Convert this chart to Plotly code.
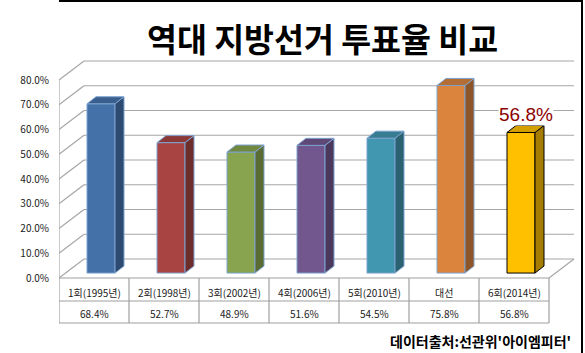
import plotly.graph_objects as go

# ---------------- data ----------------
categories = ["1회(1995년)", "2회(1998년)", "3회(2002년)", "4회(2006년)",
              "5회(2010년)", "대선", "6회(2014년)"]
turnout = [68.4, 52.7, 48.9, 51.6, 54.5, 75.8, 56.8]
series_name = "계열1"
y_ticks = [0, 10, 20, 30, 40, 50, 60, 70, 80]
y_tick_labels = [f"{v:.1f}%" for v in y_ticks]
title_text = "역대 지방선거 투표율 비교"
source_text = "데이터출처:선관위'아이엠피터'"
highlight_index = 6

front_colors = ["#4472A8", "#A84442", "#89A44E", "#72578F", "#4197AF", "#DA843D", "#FFC000"]
side_colors = ["#2D4A70", "#6E2C2B", "#5A6B33", "#4A395D", "#2A6272", "#8E5628", "#A67D00"]
top_colors = ["#3A5F8E", "#8B3836", "#718840", "#5E4876", "#367D91", "#B46D32", "#D4A000"]
edge_colors = ["#7DA2CF"] * 6 + ["#000000"]

# ---------------- geometry (axis units) ----------------
W, H = 585, 353
X0_PX, PX_X = 94, 70.0      # category 0 centre, pixels per category
Y0_PX, PX_Y = 278, 2.475    # 0% position, pixels per percent
ML = 59

def px2x(px):
    return (px - X0_PX) / PX_X

def py2y(py):
    return (Y0_PX - py) / PX_Y

DX, DY = 25 / PX_X, 19 / PX_Y          # depth of the 3D box
X_LEFT, X_RIGHT = -0.5, len(categories) - 0.5
BAR_SHIFT, BAR_W, BAR_BASE = 0.1, 0.4, 2.0
BDX, BDY = 9 / PX_X, 7 / PX_Y          # depth of each bar

GRID = "#A6A6A6"
TABLE = "#A0A0A0"
FONT = "Noto Sans CJK KR"

fig = go.Figure()

# bars
for i, v in enumerate(turnout):
    c = i + BAR_SHIFT
    l, r = c - BAR_W / 2, c + BAR_W / 2
    b, t = BAR_BASE, BAR_BASE + v
    faces = [
        ([l, r, r, l, l], [b, b, t, t, b], front_colors[i]),
        ([r, r + BDX, r + BDX, r, r], [b, b + BDY, t + BDY, t, b], side_colors[i]),
        ([l, r, r + BDX, l + BDX, l], [t, t, t + BDY, t + BDY, t], top_colors[i]),
    ]
    for xs, ys, col in faces:
        fig.add_trace(go.Scatter(x=xs, y=ys, mode="lines", fill="toself",
                                 fillcolor=col, line=dict(color=edge_colors[i], width=1),
                                 hoverinfo="skip", showlegend=False))

shapes = []
# back wall gridlines + left wall diagonals
for v in y_ticks:
    shapes.append(dict(type="line", xref="x", yref="y", layer="below",
                       x0=X_LEFT + DX, x1=X_RIGHT + DX, y0=v + DY, y1=v + DY,
                       line=dict(color=GRID, width=1.2)))
    shapes.append(dict(type="line", xref="x", yref="y", layer="below",
                       x0=X_LEFT, x1=X_LEFT + DX, y0=v, y1=v + DY,
                       line=dict(color=GRID, width=1.2)))
# front vertical axis line
shapes.append(dict(type="line", xref="x", yref="y", layer="below",
                   x0=X_LEFT, x1=X_LEFT, y0=0, y1=max(y_ticks),
                   line=dict(color=GRID, width=1.2)))
# floor right edge
shapes.append(dict(type="line", xref="x", yref="y", layer="below",
                   x0=X_RIGHT, x1=X_RIGHT + DX, y0=0, y1=DY,
                   line=dict(color=GRID, width=1.2)))

# data table
row1 = py2y(301)
row2 = py2y(323)
x_tab_left = px2x(16)
shapes.append(dict(type="line", xref="x", yref="y", x0=X_LEFT, x1=X_RIGHT, y0=0, y1=0,
                   line=dict(color=TABLE, width=1.2)))
for yy in (row1, row2):
    shapes.append(dict(type="line", xref="x", yref="y", x0=x_tab_left, x1=X_RIGHT,
                       y0=yy, y1=yy, line=dict(color=TABLE, width=1.2)))
for k in range(len(categories) + 1):
    shapes.append(dict(type="line", xref="x", yref="y", x0=X_LEFT + k, x1=X_LEFT + k,
                       y0=0, y1=row2, line=dict(color=TABLE, width=1.2)))
shapes.append(dict(type="line", xref="x", yref="y", x0=x_tab_left, x1=x_tab_left,
                   y0=row1, y1=row2, line=dict(color=TABLE, width=1.2)))

# outer frame
shapes.append(dict(type="rect", xref="x", yref="y",
                   x0=px2x(1), x1=px2x(582), y0=py2y(1), y1=py2y(360),
                   line=dict(color="black", width=2)))

annotations = []
for i, (cat, v) in enumerate(zip(categories, turnout)):
    annotations.append(dict(x=i, y=py2y(292), xref="x", yref="y", text=cat,
                            showarrow=False, font=dict(family=FONT, size=10, color="#222")))
    annotations.append(dict(x=i, y=py2y(313), xref="x", yref="y", text=f"{v:.1f}%",
                            showarrow=False, font=dict(family=FONT, size=10, color="#222")))
annotations.append(dict(x=px2x(19), y=py2y(312), xref="x", yref="y", xanchor="left",
                        text=f"<span style='color:{front_colors[0]}'>■</span>{series_name}",
                        showarrow=False, font=dict(family=FONT, size=10.5, color="#222")))

# highlighted value label
hv = turnout[highlight_index]
annotations.append(dict(x=highlight_index + BAR_SHIFT + BDX / 2,
                        y=BAR_BASE + hv + BDY, xref="x", yref="y",
                        yanchor="bottom", yshift=-1, text=f"{hv:.1f}%", showarrow=False,
                        bgcolor="white", borderpad=0,
                        font=dict(family="Liberation Sans", size=19, color="#8C0000")))

# title and source
annotations.append(dict(x=px2x(322), y=py2y(37), xref="x", yref="y",
                        text=f"<b>{title_text}</b>", showarrow=False,
                        font=dict(family=FONT, size=32.5, color="black")))
annotations.append(dict(x=px2x(573), y=py2y(341), xref="x", yref="y", xanchor="right",
                        text=f"<b>{source_text}</b>", showarrow=False,
                        font=dict(family=FONT, size=14, color="black")))

fig.update_layout(
    width=W, height=H, autosize=False,
    margin=dict(l=ML, r=0, t=0, b=0, pad=0),
    paper_bgcolor="white", plot_bgcolor="white",
    showlegend=False,
    xaxis=dict(range=[px2x(ML), px2x(W)], visible=False, fixedrange=True),
    yaxis=dict(range=[py2y(H), py2y(0)], tickvals=y_ticks, ticktext=y_tick_labels,
               showgrid=False, zeroline=False, showline=False, ticks="",
               ticklabelstandoff=9,
               tickfont=dict(family=FONT, size=10, color="#222"), fixedrange=True),
    shapes=shapes,
    annotations=annotations,
)

fig.write_html("out.html")
